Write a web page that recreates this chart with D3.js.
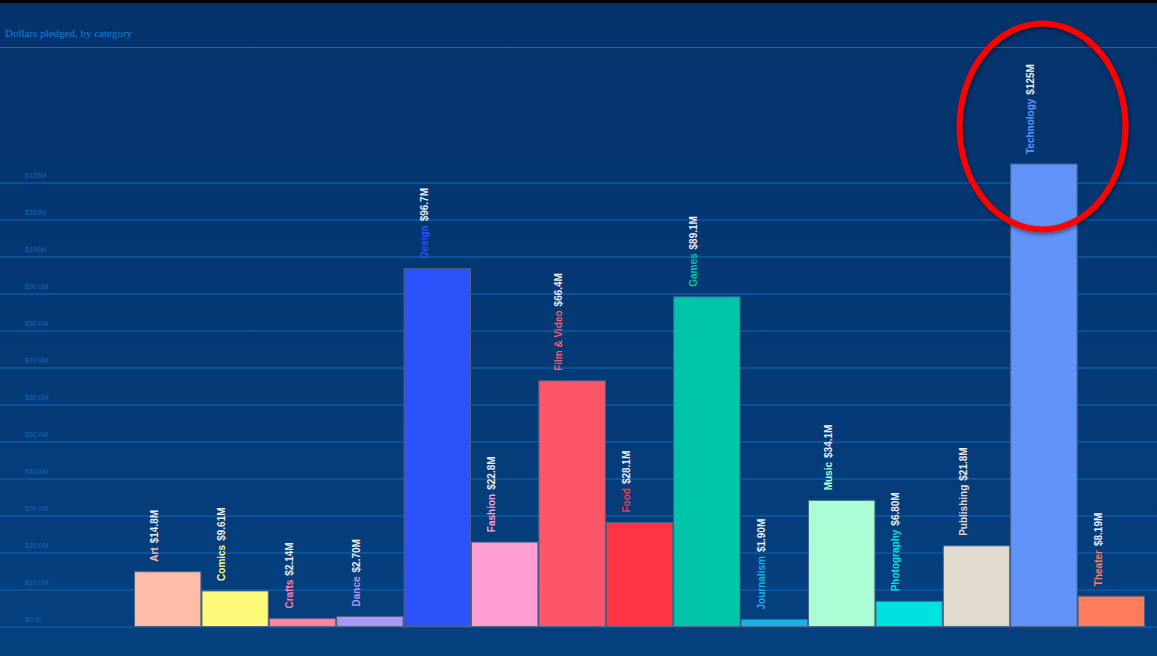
<!DOCTYPE html>
<html>
<head>
<meta charset="utf-8">
<script src="https://cdn.jsdelivr.net/npm/d3@7"></script>
<style>
  html, body { margin: 0; padding: 0; background: #04346d; overflow: hidden; }
  svg { display: block; }
</style>
</head>
<body>
<svg id="chart" width="1157" height="656"></svg>
<script>
const categories = ["Art","Comics","Crafts","Dance","Design","Fashion","Film & Video","Food","Games","Journalism","Music","Photography","Publishing","Technology","Theater"];
const values = [14.8, 9.61, 2.14, 2.70, 96.7, 22.8, 66.4, 28.1, 89.1, 1.90, 34.1, 6.80, 21.8, 125, 8.19];
const valueLabels = ["$14.8M","$9.61M","$2.14M","$2.70M","$96.7M","$22.8M","$66.4M","$28.1M","$89.1M","$1.90M","$34.1M","$6.80M","$21.8M","$125M","$8.19M"];
const colors = ["#ffbca6","#fffa7a","#ff80a6","#a898f2","#2b52fb","#ff9fd4","#fc5668","#ff3344","#00c5a9","#18b3e8","#aafdd4","#00e2e0","#e2dace","#6194fb","#ff7c5b"];
const tickValues = [0,10,20,30,40,50,60,70,80,90,100,110,120];
const tickLabels = ["$0.00","$10.0M","$20.0M","$30.0M","$40.0M","$50.0M","$60.0M","$70.0M","$80.0M","$90.0M","$100M","$110M","$120M"];
const title = "Dollars pledged, by category";

const W = 1157, H = 656;
const svg = d3.select("#chart");

// background
const defs = svg.append("defs");
const grad = defs.append("linearGradient").attr("id","bg").attr("x1",0).attr("y1",0).attr("x2",0).attr("y2",1);
grad.append("stop").attr("offset","0%").attr("stop-color","#04326b");
grad.append("stop").attr("offset","100%").attr("stop-color","#05407f");
svg.append("rect").attr("width",W).attr("height",H).attr("fill","url(#bg)");
svg.append("rect").attr("width",W).attr("height",3).attr("fill","#000");

const sh = defs.append("filter").attr("id","shadow").attr("x","-20%").attr("y","-20%").attr("width","140%").attr("height","140%");
sh.append("feDropShadow").attr("dx",1).attr("dy",2).attr("stdDeviation",2).attr("flood-color","#000").attr("flood-opacity",0.45);

// title
svg.append("text").attr("x",5).attr("y",37)
  .attr("font-family","'Liberation Serif', 'DejaVu Serif', serif")
  .attr("font-size",11).attr("fill","#1a7fd6").text(title);
svg.append("line").attr("x1",0).attr("x2",W).attr("y1",47.5).attr("y2",47.5)
  .attr("stroke","#0e68c2").attr("stroke-width",1.2);

const x = d3.scaleBand().domain(categories).range([134, 1145]).padding(0);
const y = d3.scaleLinear().domain([0,120]).range([626.5, 182.5]);

// grid + axis
const axis = d3.axisLeft(y).tickValues(tickValues).tickSize(0)
  .tickFormat((d,i) => tickLabels[i]);
const gAxis = svg.append("g").call(axis);
gAxis.select(".domain").remove();
gAxis.selectAll(".tick text")
  .attr("x",25).attr("dy",-5).attr("text-anchor","start")
  .attr("font-family","'Liberation Sans', Arial, sans-serif")
  .attr("font-size",7).attr("fill","#1567bb");
gAxis.selectAll(".tick").append("line")
  .attr("x1",0).attr("x2",W).attr("stroke","#0b5aa8").attr("stroke-width",1.4);

// bars
const data = categories.map((c,i) => ({c, v: values[i], label: valueLabels[i], color: colors[i]}));
svg.append("g").selectAll("rect").data(data).join("rect")
  .attr("x", d => x(d.c) + 0.5)
  .attr("y", d => y(d.v))
  .attr("width", x.bandwidth() - 1)
  .attr("height", d => y(0) - y(d.v))
  .attr("fill", d => d.color)
  .attr("stroke","#4d6486").attr("stroke-width",1);

// labels
const lab = svg.append("g").selectAll("text").data(data).join("text")
  .attr("transform", d => `translate(${x(d.c) + 24},${y(d.v) - 10}) rotate(-90)`)
  .attr("font-family","'Liberation Sans', Arial, sans-serif")
  .attr("font-size",10).attr("font-weight","bold");
lab.append("tspan").attr("fill", d => d.color).text(d => d.c);
lab.append("tspan").attr("fill","#ececec").attr("dx",4).text(d => d.label);

// highlight ellipse
svg.append("ellipse").attr("cx",1042.5).attr("cy",126.5).attr("rx",83).attr("ry",103)
  .attr("fill","none").attr("stroke","#ff0000").attr("stroke-width",6)
  .attr("filter","url(#shadow)");
</script>
</body>
</html>
